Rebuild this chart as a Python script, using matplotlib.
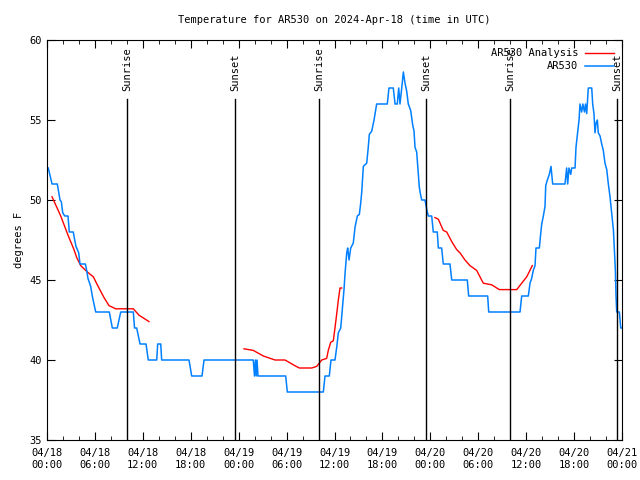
import numpy as np
import pandas as pd
import matplotlib
matplotlib.use("Agg")
import matplotlib.pyplot as plt
import matplotlib.dates as mdates

plt.rcParams['font.family'] = ['DejaVu Sans Mono']

base = pd.Timestamp('2024-04-18 00:00')

# observed AR530 temps (hours since 04/18 00:00 UTC, deg F)
obs_hours = [0.16, 0.63, 1.29, 1.63, 1.79, 1.97, 2.22, 2.63, 2.79, 3.29, 3.47, 3.63, 3.97, 4.13,
             4.80, 4.97, 5.13, 5.47, 5.67, 5.89, 6.10, 7.80, 8.18, 8.80, 9.23, 10.81, 10.96, 11.23,
             11.65, 12.40, 12.68, 13.74, 13.86, 14.24, 14.36, 17.78, 18.12, 19.41, 19.66, 25.83,
             25.98, 26.10, 26.20, 26.30, 26.42, 29.89, 30.09, 34.60, 34.81, 35.35, 35.56, 36.06,
             36.28, 36.48, 36.78, 37.03, 37.19, 37.32, 37.53, 37.65, 37.82, 38.03, 38.35, 38.57,
             38.86, 39.11, 39.28, 39.41, 39.61, 40.03, 40.23, 40.36, 40.66, 40.95, 41.28, 42.61,
             42.82, 43.36, 43.58, 43.86, 44.04, 44.20, 44.42, 44.62, 44.83, 45.04, 45.24, 45.54,
             45.79, 45.96, 46.08, 46.29, 46.49, 46.62, 46.79, 46.92, 47.33, 47.55, 47.75, 48.17,
             48.37, 48.87, 49.00, 49.42, 49.62, 50.46, 50.68, 52.63, 52.80, 55.18, 55.31, 59.23,
             59.44, 60.27, 60.48, 60.69, 60.89, 61.11, 61.23, 61.65, 61.82, 61.95, 62.15, 62.36,
             62.45, 62.65, 62.90, 63.11, 63.32, 64.86, 65.07, 65.20, 65.36, 65.58, 65.70, 66.12,
             66.24, 66.40, 66.62, 66.74, 66.95, 67.10, 67.30, 67.43, 67.58, 67.78, 68.21, 68.33,
             68.49, 68.62, 68.75, 68.91, 69.03, 69.25, 69.46, 69.66, 69.87, 70.09, 70.29, 70.50,
             70.71, 70.93, 71.05, 71.17, 71.25, 71.34, 71.67, 71.84, 72.00]
obs_temp = [52, 51, 51, 50, 49.9, 49.2, 49, 49, 48, 48, 47.5, 47.1, 46.7, 46,
            46, 45.6, 45.1, 44.6, 44, 43.5, 43, 43, 42, 42, 43, 43, 42, 42,
            41, 41, 40, 40, 41, 41, 40, 40, 39, 39, 40, 40,
            39, 40, 39, 40, 39, 39, 38, 38, 39, 39, 40, 40,
            40.8, 41.7, 42, 43.5, 44.4, 45.4, 46.7, 47, 46.25, 47, 47.3, 48.3,
            49, 49.1, 49.8, 50.5, 52.1, 52.3, 53.3, 54.1, 54.3, 55, 56, 56,
            57, 57, 56, 56, 57, 56, 57, 58, 57.3, 56.8, 56, 55.6,
            54.7, 54.3, 53.3, 53, 51.7, 50.8, 50.3, 50, 50, 49.4, 49, 49,
            48, 48, 47, 47, 46, 46, 45, 45, 44, 44, 43, 43,
            44, 44, 44.8, 45.1, 45.6, 45.9, 47, 47, 47.9, 48.5, 49, 49.6,
            50.9, 51.25, 51.6, 52.1, 51, 51, 52, 51, 52, 51.6, 52, 52,
            53.3, 54, 55, 56, 55.5, 56, 55.5, 56, 55.4, 57, 57, 56,
            55.4, 54.2, 54.8, 55, 54.2, 54, 53.5, 53.1, 52.3, 51.9, 51, 50.2,
            49.2, 48.1, 46.9, 45.6, 44, 43, 43, 42, 42]

# analysis temps, three separate runs
ana1_hours = [0.63, 1.72, 2.63, 3.38, 3.72, 4.22, 5.05, 5.80, 6.30, 6.72, 7.14, 7.76, 8.60,
              10.81, 11.52, 12.15, 12.77]
ana1_temp = [50.2, 49, 47.8, 46.9, 46.4, 45.9, 45.5, 45.2, 44.7, 44.3, 43.9, 43.4, 43.2,
             43.2, 42.8, 42.6, 42.4]
ana2_hours = [24.67, 25.83, 27.09, 28.55, 29.80, 30.84, 31.59, 33.15, 33.77, 34.40, 35.02,
              35.22, 35.52, 35.85, 36.06, 36.28, 36.48, 36.69, 36.90]
ana2_temp = [40.7, 40.6, 40.25, 40, 40, 39.7, 39.5, 39.5, 39.6, 40, 40.1,
             40.6, 41.1, 41.2, 42, 42.9, 43.75, 44.5, 44.5]
ana3_hours = [48.58, 49.00, 49.62, 50.05, 50.68, 51.30, 51.71, 52.34, 52.96, 53.80, 54.63,
              55.68, 56.64, 58.82, 59.44, 60.07, 60.77]
ana3_temp = [48.9, 48.8, 48.1, 48.0, 47.4, 46.9, 46.7, 46.25, 45.9, 45.6, 44.8,
             44.7, 44.4, 44.4, 44.8, 45.2, 45.9]

sun_hours = [10.02, 23.54, 34.06, 47.46, 57.98, 71.36]
sun_labels = ['Sunrise', 'Sunset', 'Sunrise', 'Sunset', 'Sunrise', 'Sunset']


def to_time(h):
    return base + pd.to_timedelta(np.array(h), unit='h')


fig = plt.figure(figsize=(6.4, 4.8), dpi=100)
ax = fig.add_axes([47 / 640, 40 / 480, 575 / 640, 400 / 480])

red = '#ff0000'
blue = '#0080ff'
ax.plot(to_time(ana1_hours), ana1_temp, color=red, lw=1.0, label='AR530 Analysis')
ax.plot(to_time(ana2_hours), ana2_temp, color=red, lw=1.0)
ax.plot(to_time(ana3_hours), ana3_temp, color=red, lw=1.0)
ax.plot(to_time(obs_hours), obs_temp, color=blue, lw=1.1, label='AR530')

for h, lab in zip(sun_hours, sun_labels):
    t = to_time([h])[0]
    ax.plot([t, t], [35, 56.3], color='black', lw=1.0)
    ax.text(t, 56.8, lab, rotation=90, ha='center', va='bottom', fontsize=7.5)

ax.set_xlim(base, base + pd.Timedelta(hours=72))
ax.set_ylim(35, 60)
ax.set_yticks(np.arange(35, 61, 5))
ax.xaxis.set_major_locator(mdates.HourLocator(byhour=[0, 6, 12, 18]))
ax.xaxis.set_minor_locator(mdates.HourLocator(byhour=range(0, 24, 2)))
ax.xaxis.set_major_formatter(mdates.DateFormatter('%m/%d\n%H:%M'))
ax.tick_params(axis='both', which='both', direction='in', top=True, right=True, labelsize=7.5)
ax.tick_params(which='major', length=6)
ax.tick_params(which='minor', length=3)
ax.tick_params(axis='x', pad=6)

ax.set_ylabel('degrees F', fontsize=7.5)
ax.set_title('Temperature for AR530 on 2024-Apr-18 (time in UTC)', fontsize=7.5, pad=12)

leg = ax.legend(loc='upper right', frameon=False, markerfirst=False, fontsize=7.5,
                handlelength=2.8, borderaxespad=0.6, borderpad=0.2, labelspacing=0.3,
                handletextpad=0.6)

fig.savefig('out.png', dpi=100)
